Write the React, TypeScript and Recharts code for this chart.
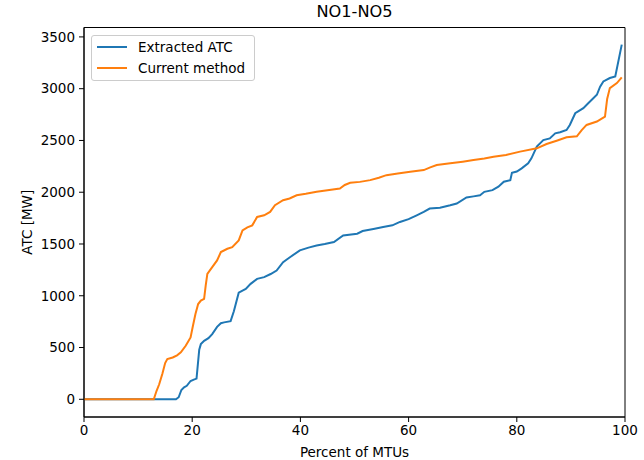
import React from 'react';
import { LineChart, Line, XAxis, YAxis, ReferenceArea } from 'recharts';

const extractedPct = [0, 17.0, 17.5, 18.0, 18.5, 19.0, 19.7, 20.3, 20.8, 21.3, 21.6, 22.2, 23.0, 23.7, 24.6, 25.3, 25.9, 27.1, 27.7, 28.6, 29.3, 29.9, 30.8, 32.0, 33.3, 34.5, 35.6, 36.8, 38.0, 39.9, 41.5, 43.0, 44.5, 46.2, 47.9, 50.5, 51.5, 53.5, 55.3, 57.0, 58.4, 60.0, 61.5, 62.8, 63.9, 65.8, 67.7, 68.9, 70.7, 72.0, 73.2, 74.0, 75.5, 76.6, 77.6, 78.8, 79.1, 80.0, 80.9, 82.1, 82.7, 83.7, 84.9, 86.1, 87.1, 88.0, 89.2, 89.8, 90.8, 92.3, 93.2, 94.0, 94.8, 95.4, 96.0, 97.2, 98.2, 99.4];
const extractedAtc = [0, 0, 20, 90, 116, 130, 177, 190, 200, 480, 533, 565, 590, 630, 700, 735, 743, 755, 850, 1030, 1050, 1066, 1115, 1163, 1180, 1210, 1244, 1325, 1370, 1438, 1465, 1486, 1500, 1519, 1583, 1599, 1625, 1645, 1665, 1680, 1713, 1740, 1777, 1810, 1842, 1850, 1874, 1891, 1949, 1960, 1971, 2004, 2020, 2053, 2101, 2117, 2188, 2200, 2230, 2279, 2327, 2440, 2504, 2520, 2569, 2580, 2601, 2650, 2763, 2812, 2860, 2900, 2941, 3020, 3070, 3103, 3119, 3426];

const currentPct = [0, 12.9, 13.4, 13.9, 14.5, 15.0, 15.4, 16.4, 17.2, 17.9, 18.8, 19.7, 20.1, 20.6, 21.1, 21.6, 22.2, 22.5, 22.8, 23.7, 24.6, 25.3, 26.5, 27.4, 28.6, 29.3, 30.2, 31.1, 32.0, 33.3, 34.4, 35.3, 36.8, 38.0, 39.3, 41.0, 43.0, 45.0, 47.3, 48.2, 49.2, 51.0, 52.9, 54.5, 55.9, 58.0, 60.3, 62.8, 64.0, 65.2, 67.7, 70.0, 72.0, 74.0, 75.7, 78.0, 80.6, 83.7, 85.5, 87.5, 89.2, 91.1, 92.0, 92.9, 94.8, 96.3, 96.7, 97.2, 98.5, 99.4];
const currentAtc = [0, 0, 80, 145, 250, 350, 388, 404, 425, 453, 517, 598, 700, 824, 920, 953, 970, 1100, 1212, 1277, 1341, 1422, 1454, 1470, 1535, 1632, 1660, 1680, 1761, 1777, 1810, 1874, 1923, 1940, 1971, 1985, 2004, 2020, 2036, 2070, 2091, 2100, 2117, 2140, 2165, 2180, 2198, 2214, 2240, 2262, 2279, 2295, 2311, 2325, 2343, 2360, 2392, 2424, 2466, 2500, 2530, 2540, 2600, 2650, 2683, 2731, 2900, 3006, 3054, 3110];

const xTicks = [0, 20, 40, 60, 80, 100];
const yTicks = [0, 500, 1000, 1500, 2000, 2500, 3000, 3500];

const seriesNames = ['Extracted ATC', 'Current method'];
const seriesColors = ['#1f77b4', '#ff7f0e'];
const chartTitle = 'NO1-NO5';
const xLabel = 'Percent of MTUs';
const yLabel = 'ATC [MW]';

const extractedData = extractedPct.map((p, i) => ({ pct: p, atc: extractedAtc[i] }));
const currentData = currentPct.map((p, i) => ({ pct: p, atc: currentAtc[i] }));

const FONT = '"DejaVu Sans", sans-serif';
const tickStyle = { fontFamily: FONT, fontSize: 13.5, fill: '#000' };

export default function App() {
  return (
    <div style={{ position: 'absolute', left: 0, top: 0, width: 644, height: 460, background: '#fff', fontFamily: FONT }}>
      <LineChart width={644} height={460} margin={{ top: 27.5, right: 19, bottom: 0, left: 0 }}>
        <XAxis
          dataKey="pct"
          type="number"
          domain={[0, 100]}
          ticks={xTicks}
          height={43}
          tickSize={5}
          tickMargin={3}
          tick={tickStyle}
          stroke="#000"
          allowDataOverflow
          label={{ value: xLabel, position: 'insideBottom', offset: 3, style: { fontFamily: FONT, fontSize: 13.5, fill: '#000' } }}
        />
        <YAxis
          type="number"
          domain={[-171, 3591]}
          ticks={yTicks}
          width={84}
          tickSize={5}
          tickMargin={4}
          tick={tickStyle}
          stroke="#000"
          allowDataOverflow
          label={{ value: yLabel, angle: -90, position: 'insideLeft', offset: 27, style: { fontFamily: FONT, fontSize: 13.5, fill: '#000', textAnchor: 'middle' } }}
        />
        <ReferenceArea x1={0} x2={100} y1={-171} y2={3591} fill="none" stroke="#000" strokeWidth={1} ifOverflow="visible" />
        <Line data={extractedData} dataKey="atc" name={seriesNames[0]} stroke={seriesColors[0]} strokeWidth={2} dot={false} isAnimationActive={false} type="linear" />
        <Line data={currentData} dataKey="atc" name={seriesNames[1]} stroke={seriesColors[1]} strokeWidth={2} dot={false} isAnimationActive={false} type="linear" />
      </LineChart>
      <div style={{ position: 'absolute', left: 84, width: 541, top: 3, textAlign: 'center', fontSize: 16.2, color: '#000', lineHeight: '18px' }}>
        {chartTitle}
      </div>
      <div style={{ position: 'absolute', left: 91, top: 35, width: 164, height: 46, boxSizing: 'border-box', border: '1px solid #cccccc', borderRadius: 3, background: 'rgba(255,255,255,0.8)' }}>
        {seriesNames.map((name, i) => (
          <div key={name} style={{ position: 'absolute', left: 5, top: 2 + i * 21.3, height: 18, display: 'flex', alignItems: 'center' }}>
            <svg width={30} height={18} style={{ display: 'block' }}>
              <line x1={0} x2={30} y1={9} y2={9} stroke={seriesColors[i]} strokeWidth={2} />
            </svg>
            <span style={{ marginLeft: 11, fontSize: 13.5, color: '#000', whiteSpace: 'nowrap', lineHeight: '18px' }}>{name}</span>
          </div>
        ))}
      </div>
    </div>
  );
}
